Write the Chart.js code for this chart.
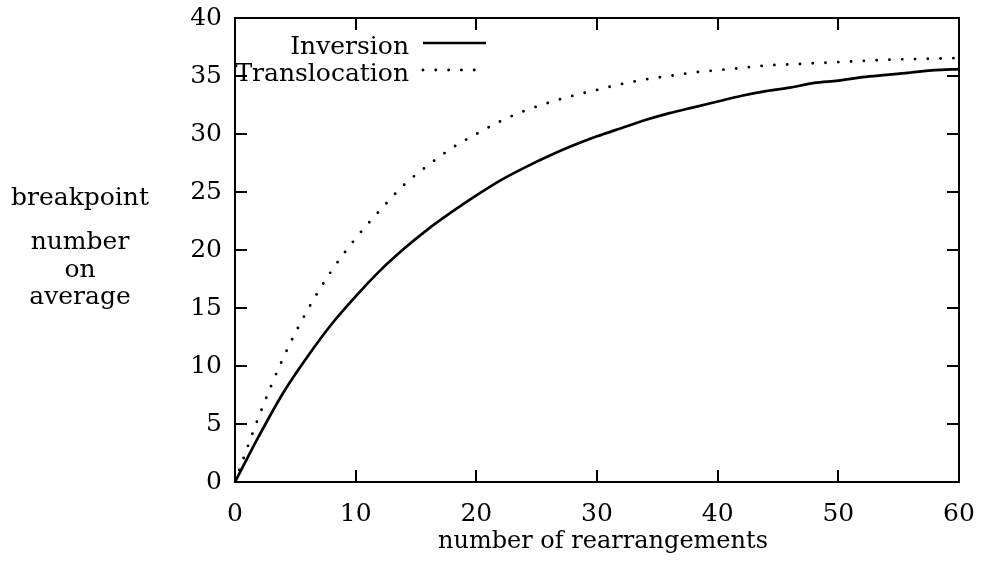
<!DOCTYPE html>
<html>
<head>
<meta charset="utf-8">
<script src="https://cdn.jsdelivr.net/npm/chart.js@4/dist/chart.umd.min.js"></script>
<style>
  html, body { margin: 0; padding: 0; background: #fff; }
  #wrap { width: 982px; height: 562px; }
</style>
</head>
<body>
<div id="wrap"><canvas id="c" width="982" height="562"></canvas></div>
<script>
// Number of rearrangements applied
const rearrangements = [0, 2, 4, 6, 8, 10, 12, 14, 16, 18, 20, 22, 24, 26, 28, 30,
  32, 34, 36, 38, 40, 42, 44, 46, 48, 50, 52, 54, 56, 58, 60];

// Average breakpoint number after inversions
const inversion = [0, 4.0, 7.7, 10.8, 13.6, 16.0, 18.2, 20.1, 21.8, 23.3, 24.7, 26.0,
  27.1, 28.1, 29.0, 29.8, 30.5, 31.2, 31.8, 32.3, 32.8, 33.3, 33.7, 34.0, 34.4,
  34.6, 34.9, 35.1, 35.3, 35.5, 35.6];

// Average breakpoint number after translocations
const translocation = [0, 5.7, 10.7, 14.8, 18.2, 21.0, 23.4, 25.6, 27.3, 28.8, 30.0,
  31.1, 32.0, 32.7, 33.3, 33.8, 34.3, 34.7, 35.0, 35.3, 35.5, 35.7, 35.9, 36.0,
  36.1, 36.2, 36.3, 36.4, 36.45, 36.5, 36.55];

const seriesNames = ['Inversion', 'Translocation'];
const xTickValues = [0, 10, 20, 30, 40, 50, 60];
const yTickValues = [0, 5, 10, 15, 20, 25, 30, 35, 40];
const xTitle = 'number of rearrangements';
const yTitleLines = ['breakpoint', 'number', 'on', 'average'];

const FONT = '"DejaVu Serif", "Liberation Serif", serif';
const FONT_SIZE = 25;
const TICK_LEN = 12;

const toPoints = ys => rearrangements.map((x, i) => ({ x, y: ys[i] }));

// Frame, inward tick marks, legend and axis titles
const decorations = {
  id: 'decorations',
  afterDatasetsDraw(chart) {
    const { ctx, chartArea: a, scales: { x, y } } = chart;
    ctx.save();
    ctx.strokeStyle = '#000';
    ctx.lineWidth = 2;
    ctx.lineCap = 'butt';
    ctx.strokeRect(a.left, a.top, a.right - a.left, a.bottom - a.top);

    ctx.beginPath();
    xTickValues.forEach(v => {
      const px = Math.round(x.getPixelForValue(v));
      ctx.moveTo(px, a.bottom); ctx.lineTo(px, a.bottom - TICK_LEN);
      ctx.moveTo(px, a.top); ctx.lineTo(px, a.top + TICK_LEN);
    });
    yTickValues.forEach(v => {
      const py = Math.round(y.getPixelForValue(v));
      ctx.moveTo(a.left, py); ctx.lineTo(a.left + TICK_LEN, py);
      ctx.moveTo(a.right, py); ctx.lineTo(a.right - TICK_LEN, py);
    });
    ctx.stroke();

    // legend: label right-aligned, sample to its right
    ctx.font = `${FONT_SIZE}px ${FONT}`;
    ctx.fillStyle = '#000';
    ctx.textAlign = 'right';
    ctx.textBaseline = 'alphabetic';
    const rows = [{ base: 54, mid: 43 }, { base: 81, mid: 70 }];
    chart.data.datasets.forEach((ds, i) => {
      const r = rows[i];
      ctx.fillText(ds.label, 409, r.base);
      ctx.save();
      ctx.strokeStyle = ds.borderColor;
      ctx.lineWidth = ds.borderWidth;
      ctx.lineCap = ds.borderCapStyle || 'butt';
      ctx.setLineDash(ds.borderDash || []);
      ctx.beginPath();
      ctx.moveTo(423, r.mid);
      ctx.lineTo(486, r.mid);
      ctx.stroke();
      ctx.restore();
    });

    // axis titles
    ctx.textAlign = 'center';
    ctx.font = `24px ${FONT}`;
    ctx.fillText(xTitle, 603, 548);
    ctx.font = `${FONT_SIZE}px ${FONT}`;
    const yBases = [205, 249, 277, 304];
    yTitleLines.forEach((t, i) => ctx.fillText(t, 80, yBases[i]));
    ctx.restore();
  }
};

new Chart(document.getElementById('c'), {
  type: 'line',
  data: {
    datasets: [
      {
        label: seriesNames[0],
        data: toPoints(inversion),
        borderColor: '#000',
        borderWidth: 2.7,
        pointRadius: 0,
        cubicInterpolationMode: 'monotone',
        fill: false
      },
      {
        label: seriesNames[1],
        data: toPoints(translocation),
        borderColor: '#000',
        borderWidth: 2.9,
        borderDash: [0, 12.8],
        borderCapStyle: 'round',
        pointRadius: 0,
        cubicInterpolationMode: 'monotone',
        fill: false
      }
    ]
  },
  options: {
    responsive: false,
    animation: false,
    devicePixelRatio: 1,
    layout: { padding: { left: 0, right: 23, top: 18, bottom: 0 } },
    plugins: { legend: { display: false }, tooltip: { enabled: false } },
    scales: {
      x: {
        type: 'linear',
        min: 0, max: 60,
        afterFit: s => { s.height = 80; s.paddingLeft = 0; s.paddingRight = 0; },
        afterBuildTicks: s => { s.ticks = xTickValues.map(v => ({ value: v })); },
        grid: { display: false, drawTicks: false },
        border: { display: false },
        ticks: { color: '#000', padding: 17, font: { family: FONT, size: FONT_SIZE } }
      },
      y: {
        type: 'linear',
        min: 0, max: 40,
        afterFit: s => { s.width = 235; s.paddingTop = 0; s.paddingBottom = 0; },
        afterBuildTicks: s => { s.ticks = yTickValues.map(v => ({ value: v })); },
        grid: { display: false, drawTicks: false },
        border: { display: false },
        ticks: { color: '#000', padding: 13, font: { family: FONT, size: FONT_SIZE } }
      }
    }
  },
  plugins: [decorations]
});
</script>
</body>
</html>
